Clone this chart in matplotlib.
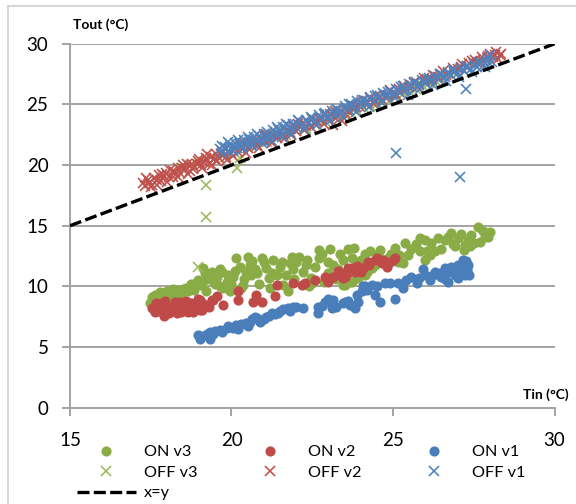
import matplotlib
matplotlib.use("Agg")
import matplotlib.pyplot as plt
from matplotlib.lines import Line2D

plt.rcParams["font.family"] = ["Lato", "DejaVu Sans"]

# %%
# Data (Tin, Tout in °C)

on_v3_tin = [17.48, 17.55, 17.63, 17.7, 17.8, 17.9, 18.0, 18.1, 18.2, 18.35, 18.45, 18.6,
             18.75, 18.85, 18.97, 19.1, 19.12, 19.18, 19.2, 19.3, 19.39, 19.5, 19.64, 19.64,
             19.7, 19.85, 19.95, 20.05, 20.15, 20.36, 20.46, 20.5, 20.57, 20.72, 20.93, 21.08,
             21.24, 21.5, 21.7, 21.75, 21.86, 21.9, 22.1, 22.3, 22.4, 22.7, 22.7, 22.99,
             23.05, 23.15, 23.35, 23.46, 23.6, 23.66, 23.72, 23.87, 23.92, 23.97, 24.13, 24.13,
             24.34, 24.54, 24.7, 24.95, 25.16, 25.32, 25.37, 25.57, 25.83, 25.99, 26.04, 26.19,
             26.3, 26.4, 26.6, 26.81, 26.92, 27.02, 27.23, 27.33, 27.38, 27.43, 27.64, 27.69,
             27.85, 28.0, 23.51, 23.72, 22.5, 21.2,
             17.6, 17.75, 17.95, 18.15, 18.3, 18.5, 18.65, 18.8, 18.9, 19.05, 19.25, 19.45,
             19.55, 19.75, 19.9, 20.0, 20.1, 20.25, 20.3, 20.4, 20.6, 20.65, 20.8, 20.85,
             21.0, 21.15, 21.3, 21.4, 21.55, 21.6, 21.8, 21.95, 22.0, 22.2, 22.35, 22.45,
             22.6, 22.8, 22.85, 23.0, 23.25, 23.3, 23.45, 23.55, 23.75, 23.8, 24.0, 24.2,
             24.3, 24.45, 24.6, 24.85, 25.05, 25.2, 25.45, 25.7, 25.85, 26.0, 26.15, 26.5,
             26.7, 26.85, 27.1, 27.2, 27.5, 27.8, 27.95]
on_v3_tout = [8.6, 9.1, 9.3, 8.9, 9.5, 9.2, 9.6, 9.3, 9.8, 9.7, 9.4, 9.9,
              10.2, 9.7, 10.5, 10.4, 11.5, 11.1, 9.6, 10.9, 11.2, 10.2, 11.4, 10.0,
              11.2, 10.4, 9.6, 10.8, 12.3, 10.1, 11.2, 12.45, 11.8, 11.4, 12.3, 11.5,
              11.1, 11.6, 10.9, 9.6, 12.45, 11.4, 12.45, 11.8, 10.0, 12.3, 13.0, 11.1,
              13.1, 11.8, 12.7, 10.1, 13.1, 10.4, 12.3, 10.7, 10.7, 11.8, 12.7, 10.9,
              11.5, 12.6, 12.0, 12.7, 12.0, 11.9, 13.55, 13.1, 14.0, 12.2, 12.9, 13.55,
              12.9, 14.0, 13.8, 14.4, 13.3, 14.0, 13.4, 13.8, 13.3, 14.2, 14.9, 13.7,
              14.1, 14.5, 10.1, 10.4, 10.3, 9.9,
              8.8, 9.3, 9.0, 9.5, 9.1, 9.8, 9.6, 9.9, 10.3, 10.1, 10.6, 10.4,
              10.8, 9.9, 10.9, 10.2, 11.3, 11.6, 9.9, 10.6, 10.9, 12.1, 11.1, 10.2,
              12.0, 10.7, 12.2, 10.9, 12.0, 10.1, 11.9, 10.6, 12.0, 11.2, 12.2, 10.7,
              11.6, 12.7, 10.4, 12.0, 10.6, 11.4, 12.2, 11.0, 11.5, 13.2, 12.2, 11.2,
              12.9, 11.8, 13.0, 12.3, 13.2, 12.6, 12.6, 13.5, 12.9, 13.8, 12.6, 13.1,
              14.1, 13.5, 14.3, 13.0, 13.6, 14.6, 14.1]

on_v2_tin = [17.55, 17.63, 17.7, 17.84, 17.9, 18.0, 18.1, 18.25, 18.35, 18.45, 18.55, 18.66,
             18.75, 18.85, 18.97, 19.02, 19.02, 19.08, 19.2, 19.39, 19.43, 19.54, 19.74, 20.2,
             20.2, 20.67, 20.77, 20.93, 21.34, 21.4, 21.9, 22.17, 22.27, 22.58, 22.89, 22.99,
             23.15, 23.35, 23.51, 23.51, 23.61, 23.72, 23.82, 23.82, 24.08, 24.08, 24.23, 24.44,
             24.65, 24.8, 25.0, 25.06,
             17.65, 17.75, 17.95, 18.05, 18.2, 18.3, 18.4, 18.5, 18.6, 18.7, 18.8, 18.9,
             19.1, 19.3, 23.3, 23.45, 23.65, 23.9, 24.0, 24.25, 24.5, 24.7, 24.9]
on_v2_tout = [8.2, 7.9, 8.5, 8.6, 7.6, 8.3, 8.0, 8.7, 8.2, 7.9, 8.5, 7.9,
              8.6, 8.2, 9.0, 8.9, 8.05, 8.05, 8.5, 8.9, 8.9, 9.2, 8.5, 9.6,
              8.9, 8.75, 9.3, 8.75, 9.2, 10.1, 10.25, 10.1, 10.25, 10.5, 10.8, 10.4,
              10.8, 10.9, 11.1, 10.8, 11.5, 11.5, 11.4, 11.2, 11.5, 11.5, 12.0, 12.2,
              11.9, 11.6, 12.2, 12.3,
              8.6, 8.0, 8.8, 7.8, 8.4, 7.8, 8.7, 8.2, 8.8, 8.1, 7.9, 8.5,
              8.6, 8.3, 11.3, 10.7, 11.2, 11.7, 11.2, 11.8, 12.3, 12.2, 12.0]

on_v1_tin = [18.97, 19.02, 19.23, 19.33, 19.33, 19.43, 19.64, 19.85, 20.05, 20.15, 20.52, 20.57,
             20.72, 20.88, 21.08, 21.24, 21.45, 21.6, 21.75, 21.91, 22.22, 22.68, 22.68, 22.89,
             22.99, 23.1, 23.15, 23.46, 23.51, 23.66, 23.82, 23.87, 23.92, 24.03, 24.08, 24.13,
             24.34, 24.44, 24.6, 24.75, 25.06, 25.16, 25.32, 25.57, 25.73, 25.94, 26.14, 26.25,
             26.45, 26.6, 26.71, 26.81, 26.92, 27.02, 27.07, 27.17, 27.23, 27.28, 27.33,
             19.1, 19.5, 19.7, 19.9, 20.2, 20.3, 20.45, 20.65, 20.8, 21.0, 21.15, 21.35,
             21.5, 21.8, 22.0, 22.8, 23.25, 23.6, 24.2, 24.5, 24.9, 25.4, 25.8, 26.0,
             26.3, 26.5, 26.7, 26.85, 26.95, 27.1, 27.2, 27.25, 27.3, 27.35, 26.6, 27.0]
on_v1_tout = [6.0, 5.7, 6.1, 6.27, 5.7, 6.1, 6.4, 6.55, 6.55, 6.8, 6.7, 7.1,
              7.5, 7.1, 7.5, 7.8, 7.8, 8.1, 8.2, 8.3, 8.2, 8.3, 7.8, 8.75,
              9.0, 8.2, 8.9, 8.6, 8.75, 8.5, 8.2, 9.3, 8.75, 9.6, 10.0, 10.0,
              10.1, 9.3, 8.75, 10.25, 9.0, 10.25, 9.85, 10.8, 10.25, 11.4, 10.5, 10.9,
              11.1, 11.5, 10.4, 11.6, 10.95, 11.8, 11.1, 12.2, 10.95, 11.5, 11.8,
              5.9, 6.3, 6.2, 6.7, 6.5, 6.9, 7.0, 7.3, 7.4, 7.3, 7.6, 7.7,
              8.0, 8.0, 8.3, 8.4, 8.3, 8.8, 9.7, 10.0, 10.3, 10.5, 10.7, 10.9,
              11.2, 10.8, 11.2, 11.3, 11.6, 11.4, 11.9, 12.1, 11.3, 10.9, 10.6, 10.7]

off_v3_tin = [18.45, 18.7, 18.95, 19.2, 19.5, 19.8, 20.27, 20.5, 20.8, 21.1, 21.4, 21.7,
              22.0, 22.3, 22.6, 22.9, 23.2, 23.5, 23.7, 23.9, 24.1, 24.3, 24.5, 24.7,
              24.9, 25.1, 25.3, 25.5, 25.7, 25.9, 26.1, 26.3, 26.5, 26.7, 26.9, 27.1,
              27.3, 27.5, 27.7, 18.97, 19.21, 19.21, 20.16]
off_v3_tout = [19.8, 20.0, 20.1, 20.4, 20.6, 20.9, 20.55, 21.4, 21.6, 21.9, 22.3, 22.5,
               22.8, 23.0, 23.4, 23.6, 23.9, 24.1, 24.3, 24.5, 24.7, 24.9, 25.0, 25.3,
               25.4, 25.7, 25.9, 26.1, 26.3, 26.6, 26.8, 27.0, 27.2, 27.5, 27.6, 28.0,
               28.1, 28.4, 28.5, 11.62, 18.36, 15.75, 19.73]

off_v2_tin = [17.25, 17.32, 17.4, 17.46, 17.55, 17.6, 17.68, 17.75, 17.82, 17.9, 17.97, 18.05,
              18.1, 18.18, 18.25, 18.33, 18.4, 18.47, 18.55, 18.62, 18.7, 18.78, 18.85, 18.92,
              19.0, 19.07, 19.15, 19.22, 19.3, 19.38, 19.45, 19.52, 19.6, 19.68, 19.75, 19.83,
              19.9, 20.0, 20.1, 20.2, 20.3, 20.4, 20.5, 20.6, 20.7, 20.8, 20.9, 21.0,
              21.1, 21.2, 21.3, 21.4, 21.5, 21.6, 21.7, 21.8, 21.9, 22.0, 22.1, 22.2,
              22.3, 22.4, 22.5, 22.6, 22.7, 22.8, 22.9, 23.0, 23.15, 23.2, 23.3, 23.41,
              23.5, 23.6, 23.7, 23.85, 24.0, 24.15, 24.3, 24.45, 24.6, 24.75, 24.9, 25.05,
              25.2, 25.35, 25.5, 25.65, 25.8, 25.95, 26.1, 26.25, 26.4, 26.55, 26.7, 26.85,
              27.0, 27.15, 27.3, 27.45, 27.6, 27.75, 27.9, 28.0, 28.1, 28.2, 28.3,
              17.35, 17.5, 17.7, 17.85, 18.0, 18.2, 18.35, 18.5, 18.65, 18.8, 18.95, 19.1,
              19.25, 19.4, 19.55, 19.7, 19.85, 20.05, 20.25, 20.45, 20.65, 20.85, 21.05, 21.25,
              21.45, 21.65, 21.85, 22.05, 22.25, 22.45, 22.65, 22.85, 23.05, 23.25, 23.55, 23.75,
              23.95, 24.2, 24.4, 24.65, 24.85, 25.1, 25.3, 25.55, 25.75, 26.0, 26.2, 26.45,
              26.65, 26.9, 27.1, 27.35, 27.55, 27.8, 27.95, 28.15, 28.25, 28.35]
off_v2_tout = [18.5, 18.27, 18.8, 18.56, 18.4, 18.9, 18.73, 19.2, 18.72, 19.1, 19.32, 19.05,
               19.6, 18.98, 19.4, 19.73, 19.35, 19.72, 19.65, 20.07, 19.55, 20.08, 19.85, 20.12,
               20.5, 19.97, 20.25, 20.57, 20.1, 20.63, 20.5, 20.92, 20.55, 20.88, 21.05, 20.68,
               21.05, 21.0, 21.45, 21.1, 21.5, 21.85, 21.45, 21.7, 22.0, 21.65, 22.15, 22.05,
               22.5, 22.1, 22.45, 22.2, 22.8, 22.6, 22.9, 22.75, 23.25, 22.85, 23.2, 23.45,
               23.2, 23.45, 23.8, 23.4, 23.85, 23.8, 24.1, 23.9, 23.3, 24.5, 24.2, 23.6,
               24.6, 24.45, 24.95, 24.8, 25.2, 25.0, 25.55, 25.35, 25.7, 25.6, 26.15, 25.95,
               26.3, 26.5, 26.4, 26.85, 26.7, 27.2, 27.0, 27.4, 27.3, 27.75, 27.6, 28.0,
               27.95, 28.3, 28.2, 28.6, 28.45, 28.9, 28.8, 29.2, 28.9, 29.3, 29.05,
               18.9, 18.2, 18.35, 19.3, 18.6, 19.5, 19.0, 20.0, 19.3, 19.7, 20.3, 19.75,
               20.9, 20.0, 20.3, 21.2, 20.4, 20.75, 21.7, 21.0, 22.1, 21.4, 22.3, 21.8,
               22.6, 22.2, 22.5, 23.35, 22.9, 23.1, 23.6, 23.4, 24.2, 23.9, 24.2, 24.6,
               24.9, 25.3, 25.0, 25.4, 25.8, 25.8, 26.2, 26.6, 26.4, 26.9, 27.1, 27.55,
               27.4, 27.7, 28.1, 28.4, 28.7, 28.6, 29.0, 29.1, 28.75, 29.2]

off_v1_tin = [19.65, 19.72, 19.8, 19.88, 19.95, 20.03, 20.1, 20.18, 20.25, 20.33, 20.4, 20.48,
              20.55, 20.63, 20.7, 20.78, 20.85, 20.93, 21.0, 21.08, 21.15, 21.23, 21.3, 21.38,
              21.45, 21.53, 21.6, 21.68, 21.75, 21.83, 21.9, 22.0, 22.1, 22.2, 22.3, 22.4,
              22.5, 22.6, 22.7, 22.8, 22.9, 23.0, 23.1, 23.2, 23.3, 23.4, 23.5, 23.6,
              23.7, 23.8, 23.9, 24.0, 24.1, 24.2, 24.3, 24.4, 24.5, 24.6, 24.7, 24.8,
              24.9, 25.0, 25.1, 25.2, 25.3, 25.4, 25.5, 25.6, 25.7, 25.8, 25.9, 26.0,
              26.1, 26.2, 26.3, 26.4, 26.5, 26.6, 26.7, 26.8, 26.9, 27.0, 27.1, 27.2,
              27.3, 27.4, 27.5, 27.6, 27.7, 27.8, 27.9, 28.0, 28.05, 25.09, 27.07, 27.26,
              19.7, 19.9, 20.05, 20.2, 20.35, 20.5, 20.65, 20.8, 20.95, 21.1, 21.25, 21.4,
              21.55, 21.7, 21.85, 22.05, 22.25, 22.45, 22.65, 22.85, 23.05, 23.25, 23.45, 23.65,
              23.85, 24.05, 24.25, 24.45, 24.65, 24.85, 25.05, 25.25, 25.45, 25.65, 25.85, 26.05,
              26.25, 26.45, 26.65, 26.85, 27.05, 27.25, 27.45, 27.65, 27.85, 27.95]
off_v1_tout = [21.3, 21.0, 21.5, 21.2, 21.7, 21.35, 21.8, 21.45, 21.9, 21.6, 22.05, 21.7,
               22.15, 21.85, 22.3, 22.0, 22.4, 22.1, 22.55, 22.2, 22.6, 22.4, 22.9, 22.55,
               23.0, 22.7, 23.1, 22.85, 23.3, 22.95, 23.35, 23.1, 23.6, 23.3, 23.75, 23.5,
               23.9, 23.65, 24.1, 23.8, 24.3, 24.0, 24.45, 24.2, 24.55, 24.3, 24.9, 24.65,
               25.05, 24.8, 25.25, 25.0, 25.4, 25.15, 25.6, 25.3, 25.8, 25.55, 25.95, 25.7,
               26.1, 25.85, 26.3, 26.05, 26.5, 26.2, 26.7, 26.4, 26.85, 26.6, 27.0, 26.75,
               27.2, 26.95, 27.35, 27.1, 27.55, 27.3, 27.7, 27.45, 27.85, 27.6, 28.0, 27.75,
               28.15, 27.9, 28.3, 28.05, 28.45, 28.2, 28.6, 29.1, 28.5, 21.03, 19.05, 26.25,
               21.55, 21.9, 21.2, 22.1, 21.35, 22.3, 21.6, 22.55, 21.8, 22.75, 22.0, 23.1,
               22.3, 23.4, 22.6, 23.7, 23.0, 24.0, 23.3, 24.2, 23.6, 24.65, 24.0, 25.0,
               24.4, 25.4, 24.8, 25.7, 25.1, 26.0, 25.5, 26.4, 25.8, 26.8, 26.3, 27.1,
               26.6, 27.5, 26.9, 27.8, 27.3, 28.1, 27.7, 28.5, 28.1, 28.8]

xy_line = [15, 30]

# %%
# Figure

fig = plt.figure(figsize=(5.76, 5.04), dpi=100)
ax = fig.add_axes([0.1215, 0.1911, 0.8412, 0.722])

dot = dict(ls="none", marker="o", ms=7.3, mew=0)
cross = dict(ls="none", marker="x", ms=7.4, mew=1.15)

h_on3, = ax.plot(on_v3_tin, on_v3_tout, color="#8AAC46", label="ON v3", zorder=3, **dot)
h_on2, = ax.plot(on_v2_tin, on_v2_tout, color="#BE4B48", label="ON v2", zorder=4, **dot)
h_on1, = ax.plot(on_v1_tin, on_v1_tout, color="#4A7EBB", label="ON v1", zorder=5, **dot)
h_off3, = ax.plot(off_v3_tin, off_v3_tout, color="#9BBB59", label="OFF v3", zorder=6, **cross)
h_off2, = ax.plot(off_v2_tin, off_v2_tout, color="#C0504D", label="OFF v2", zorder=7, **cross)
h_off1, = ax.plot(off_v1_tin, off_v1_tout, color="#4F81BD", label="OFF v1", zorder=8, **cross)
h_xy, = ax.plot(xy_line, xy_line, color="black", lw=2.4, dashes=(3.6, 1.3),
                label="x=y", zorder=9)

ax.set_xlim(15, 30)
ax.set_ylim(0, 30)
ax.set_xticks([15, 20, 25, 30])
ax.set_yticks([0, 5, 10, 15, 20, 25, 30])

grid_c = "#A3A3A3"
ax.grid(axis="y", color=grid_c, lw=1.4, zorder=0)
ax.set_axisbelow(True)
for side in ("top", "right"):
    ax.spines[side].set_visible(False)
for side in ("left", "bottom"):
    ax.spines[side].set_color(grid_c)
    ax.spines[side].set_linewidth(1.4)

ax.tick_params(axis="both", direction="out", length=5.5, width=1.4, color=grid_c,
               labelsize=13.5, labelcolor="black")
ax.tick_params(axis="x", pad=12)
ax.tick_params(axis="y", pad=10)

fig.text(101 / 576, 1 - 25 / 504, "Tout (°C)", ha="center", va="center",
         fontsize=10, fontweight="bold")
fig.text(546 / 576, 1 - 395 / 504, "Tin (°C)", ha="center", va="center",
         fontsize=10, fontweight="bold")

# legend: one legend per column so the columns sit where the reference has them
legend_cols = [[h_on3, h_off3, h_xy], [h_on2, h_off2], [h_on1, h_off1]]
col_left_px = [77, 241, 405]
for col, x_px in zip(legend_cols, col_left_px):
    fig.legend(handles=col, labels=[h.get_label() for h in col],
               loc="upper left", bbox_to_anchor=(x_px / 576, 1 - 445 / 504),
               frameon=False, fontsize=11.7, handlelength=3.6, handletextpad=0.5,
               labelspacing=0.38, borderpad=0, borderaxespad=0)

# outer chart border
fig.add_artist(Line2D([8 / 576, 8 / 576], [0, 1 - 6 / 504], color="#D0D0D0", lw=1.2))
fig.add_artist(Line2D([8 / 576, 1], [1 - 6 / 504, 1 - 6 / 504], color="#D0D0D0", lw=1.2))

fig.savefig("out.png", dpi=100)
